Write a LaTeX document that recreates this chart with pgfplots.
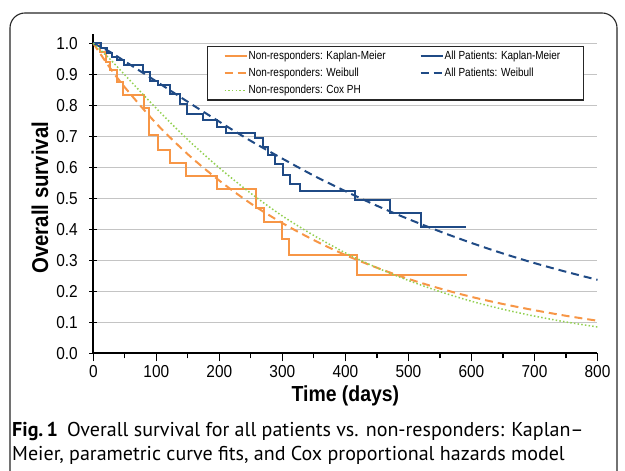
\documentclass[border=0pt]{standalone}
\usepackage{fontspec}
\setmainfont{Liberation Sans}
\newfontfamily\capfont{PT Sans}
\usepackage{pgfplots}
\pgfplotsset{compat=1.18}

\definecolor{nrorange}{HTML}{F79646}
\definecolor{apblue}{HTML}{1F4A85}
\definecolor{coxgreen}{HTML}{92D050}
\definecolor{gridgray}{HTML}{C4C4C4}

% Kaplan-Meier steps: value that holds from each time on
\pgfplotstableread{
t S
0 1.000
10 0.971
20 0.941
26 0.914
38 0.876
47 0.833
81 0.792
89 0.705
102 0.657
121 0.614
147 0.571
196 0.531
258 0.470
271 0.422
299 0.370
311 0.316
418 0.252
593 0.252
}\nrkm

\pgfplotstableread{
t S
0 1.000
13 0.985
21 0.968
29 0.957
37 0.945
48 0.929
79 0.907
90 0.878
103 0.865
121 0.838
137 0.805
148 0.771
174 0.752
196 0.730
211 0.711
256 0.693
269 0.666
277 0.639
288 0.612
301 0.574
312 0.547
328 0.524
415 0.494
471 0.451
520 0.408
592 0.408
}\apkm

% fitted curves
\pgfplotstableread{
t S
0 1.000
25 0.925
50 0.858
100 0.741
150 0.642
200 0.557
250 0.483
300 0.420
350 0.365
400 0.317
450 0.276
500 0.240
550 0.209
600 0.182
650 0.159
700 0.139
750 0.121
800 0.105
}\nrweib

\pgfplotstableread{
t S
0 1.000
25 0.974
50 0.942
100 0.877
150 0.811
200 0.747
250 0.685
300 0.628
350 0.573
400 0.523
450 0.476
500 0.433
550 0.393
600 0.356
650 0.322
700 0.291
750 0.263
800 0.237
}\apweib

\pgfplotstableread{
t S
0 1.000
25 0.952
50 0.898
100 0.790
150 0.689
200 0.598
250 0.516
300 0.443
350 0.380
400 0.324
450 0.276
500 0.235
550 0.199
600 0.168
650 0.142
700 0.120
750 0.101
800 0.085
}\nrcox

\begin{document}
\begin{tikzpicture}
\useasboundingbox (0bp,0bp) rectangle (625bp,471bp);
\begin{scope}
\clip (0bp,0bp) rectangle (625bp,471bp);
\draw[line width=1.1bp, black!85, rounded corners=15bp] (10bp,-10bp) -- (10bp,458bp) -- (617bp,458bp) -- (617bp,-10bp);
\end{scope}

\begin{axis}[
  at={(93.3bp,117.7bp)}, anchor=south west,
  scale only axis,
  width=504.2bp, height=319.3bp,
  xmin=0, xmax=800, ymin=0, ymax=1.03,
  axis x line=bottom, axis y line=left,
  axis line style={-, line width=1.6bp, black},
  xtick={0,100,...,800},
  minor xtick={50,150,...,750},
  ytick={0,0.1,0.2,0.3,0.4,0.5,0.6,0.7,0.8,0.9,1.0},
  yticklabel style={/pgf/number format/.cd, fixed, fixed zerofill, precision=1,
    /tikz/.cd, xshift=-8bp},
  /pgf/number format/assume math mode=true,
  x tick style={black, line width=1.2bp},
  y tick style={black, line width=1.2bp},
  xtick align=outside, ytick align=center,
  major tick length=8bp, minor tick length=5bp,
  ymajorgrids, grid style={gridgray, line width=1bp},
  tick label style={font=\fontsize{15.5}{16}\selectfont, yscale=1.12},
  xlabel={Time (days)}, ylabel={Overall survival},
  label style={font=\bfseries\fontsize{19.5}{20}\selectfont, yscale=1.12},
  xlabel style={at={(axis description cs:0.5,-0.134)}, anchor=center},
  ylabel style={at={(axis description cs:-0.106,0.487)}, anchor=center,
    font=\bfseries\fontsize{20.5}{21}\selectfont},
  legend columns=2,
  legend cell align=left,
  legend style={at={(axis description cs:0.2255,0.962)}, anchor=north west,
    draw=black!85, line width=1.2bp, fill=white,
    font=\fontsize{10}{11}\selectfont,
    nodes={yscale=1.18, inner xsep=1bp},
    inner xsep=16bp, inner ysep=2bp, row sep=2.2bp,
    /tikz/every even column/.append style={column sep=33bp}},
  legend image code/.code={\draw[#1] (0bp,0bp) -- (22bp,0bp);},
  clip=false,
]
\addplot[nrorange, line width=2bp, const plot] table[x=t,y=S] {\nrkm};
\addlegendentry{Non-responders: Kaplan-Meier}
\addplot[apblue, line width=2bp, const plot] table[x=t,y=S] {\apkm};
\addlegendentry{All Patients: Kaplan-Meier\hspace*{6bp}}
\addplot[nrorange, line width=2bp, dash pattern=on 8bp off 5bp, smooth] table[x=t,y=S] {\nrweib};
\addlegendentry{Non-responders: Weibull}
\addplot[apblue, line width=2bp, dash pattern=on 8bp off 5bp, smooth] table[x=t,y=S] {\apweib};
\addlegendentry{All Patients: Weibull}
\addplot[coxgreen, line width=1.5bp, dash pattern=on 1.5bp off 2.2bp, smooth] table[x=t,y=S] {\nrcox};
\addlegendentry{Non-responders: Cox PH}
\end{axis}

\node[anchor=base west, inner sep=0pt, font=\capfont\fontsize{20.1}{24}\selectfont] at (12bp,35bp)
  {\textbf{Fig.\,1}\hspace{0.45em}Overall survival for all patients vs. non-responders: Kaplan–};
\node[anchor=base west, inner sep=0pt, font=\capfont\fontsize{20.1}{24}\selectfont] at (12bp,11bp)
  {Meier, parametric curve fits, and Cox proportional hazards model};
\end{tikzpicture}
\end{document}
